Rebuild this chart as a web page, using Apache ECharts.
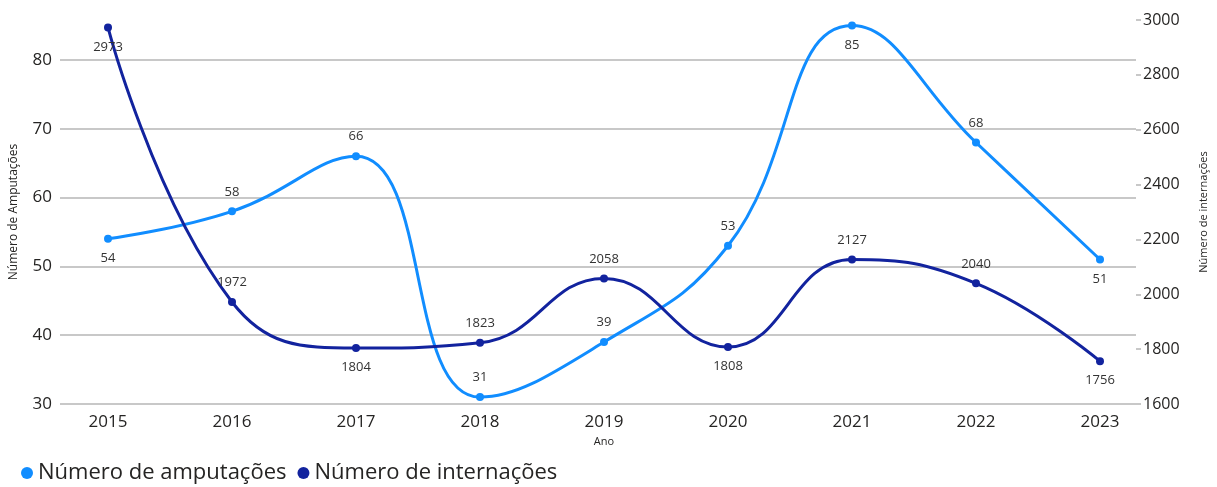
<!DOCTYPE html>
<html>
<head>
<meta charset="utf-8">
<style>
  html, body { margin: 0; padding: 0; background: #ffffff; }
  #chart { width: 1217px; height: 487px; }
</style>
<script src="https://cdn.jsdelivr.net/npm/echarts@6/dist/echarts.min.js"></script>
</head>
<body>
<div id="chart"></div>
<script>
// Anos e séries
const anos = ['2015', '2016', '2017', '2018', '2019', '2020', '2021', '2022', '2023'];
const amputacoes = [54, 58, 66, 31, 39, 53, 85, 68, 51];
const internacoes = [2973, 1972, 1804, 1823, 2058, 1808, 2127, 2040, 1756];

// Lado de cada rótulo de valor (acima / abaixo do ponto)
const posAmputacoes = ['bottom', 'top', 'top', 'top', 'top', 'top', 'bottom', 'top', 'bottom'];
const posInternacoes = ['bottom', 'top', 'bottom', 'top', 'top', 'bottom', 'top', 'top', 'bottom'];

const corAmput = '#118DFF';
const corInter = '#12239E';
const fonte = '"Open Sans", "Noto Sans", sans-serif';
const corTexto = '#252423';

const leftMin = 30, leftMax = 85.8;
const rightMin = 1600, rightMax = 3000;

function pontos(valores, posicoes) {
  return valores.map((v, i) => ({ value: v, label: { position: posicoes[i] } }));
}

const chart = echarts.init(document.getElementById('chart'));
chart.setOption({
  backgroundColor: '#ffffff',
  textStyle: { fontFamily: fonte },
  grid: [
    // área das séries
    { left: 46, right: 55, top: 20, bottom: 83 },
    // área das linhas de grade e eixos de valores
    { left: 58, right: 67, top: 20, bottom: 83 }
  ],
  legend: {
    left: 16,
    top: 457,
    itemWidth: 12,
    itemHeight: 12,
    itemGap: 11,
    icon: 'circle',
    textStyle: { fontSize: 22, color: corTexto, fontFamily: fonte },
    data: ['Número de amputações', 'Número de internações']
  },
  xAxis: [
    {
      gridIndex: 0,
      type: 'category',
      data: anos,
      boundaryGap: true,
      name: 'Ano',
      nameLocation: 'middle',
      nameGap: 31,
      nameTextStyle: { fontSize: 11, color: corTexto },
      axisLine: { show: false },
      axisTick: { show: false },
      axisLabel: { fontSize: 17, color: corTexto, margin: 10 }
    },
    {
      gridIndex: 1,
      type: 'category',
      data: anos,
      show: false
    }
  ],
  yAxis: [
    // eixos invisíveis da área das séries
    { gridIndex: 0, type: 'value', min: leftMin, max: leftMax, show: false },
    { gridIndex: 0, type: 'value', min: rightMin, max: rightMax, show: false },
    // eixo esquerdo com grade
    {
      gridIndex: 1,
      type: 'value',
      min: leftMin,
      max: leftMax,
      interval: 10,
      position: 'left',
      name: 'Número de Amputações',
      nameLocation: 'middle',
      nameGap: 40,
      nameTextStyle: { fontSize: 12, color: corTexto },
      axisLine: { show: false },
      axisTick: { show: false },
      axisLabel: { fontSize: 17, color: corTexto, margin: 8, showMaxLabel: false },
      splitLine: { show: true, showMaxLine: false, lineStyle: { color: '#c8c8c8', width: 2 } }
    },
    // eixo direito
    {
      gridIndex: 1,
      type: 'value',
      min: rightMin,
      max: rightMax,
      interval: 200,
      position: 'right',
      name: 'Número de internações',
      nameLocation: 'middle',
      nameGap: 62,
      nameRotate: 90,
      nameTextStyle: { fontSize: 11, color: corTexto },
      axisLine: { show: false },
      axisTick: { show: true, length: 5, lineStyle: { color: '#c8c8c8', width: 2 } },
      axisLabel: { fontSize: 16, color: corTexto, margin: 7, formatter: (v) => String(v) },
      splitLine: { show: false }
    }
  ],
  series: [
    {
      name: 'Número de amputações',
      type: 'line',
      xAxisIndex: 0,
      yAxisIndex: 0,
      data: pontos(amputacoes, posAmputacoes),
      smooth: 0.45,
      symbol: 'circle',
      symbolSize: 8,
      itemStyle: { color: corAmput },
      lineStyle: { color: corAmput, width: 3 },
      label: { show: true, fontSize: 13, color: '#333333', distance: 9, fontFamily: fonte },
      z: 3
    },
    {
      name: 'Número de internações',
      type: 'line',
      xAxisIndex: 0,
      yAxisIndex: 1,
      data: pontos(internacoes, posInternacoes),
      smooth: 0.45,
      symbol: 'circle',
      symbolSize: 8,
      itemStyle: { color: corInter },
      lineStyle: { color: corInter, width: 3 },
      label: { show: true, fontSize: 13, color: '#333333', distance: 9, fontFamily: fonte },
      z: 4
    }
  ]
});
</script>
</body>
</html>
